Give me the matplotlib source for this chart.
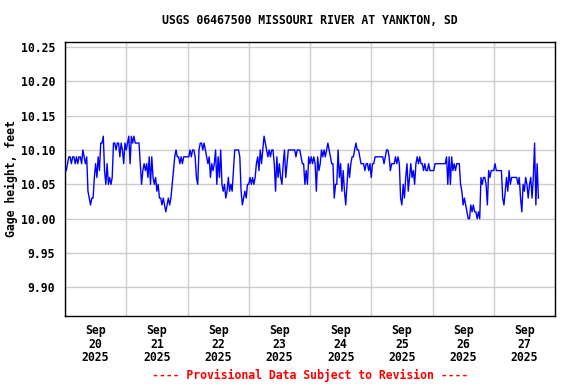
import matplotlib
matplotlib.use('Agg')
import matplotlib.pyplot as plt
import matplotlib.dates as mdates
import numpy as np
import pandas as pd

# Gage height in hundredths of a foot above 10.00 ft, one reading every 30 minutes
SEP20 = [7, 7, 8, 9, 9, 8, 9, 9, 8, 9, 8, 9, 9, 8, 10, 9, 8, 9, 4, 3, 2, 3, 3, 6,
         8, 6, 9, 7, 11, 11, 12, 7, 5, 8, 5, 6, 5, 6, 11, 11, 10, 11, 11, 9, 11, 10, 8, 11]
SEP21 = [10, 11, 12, 8, 12, 11, 12, 11, 11, 11, 11, 8, 5, 7, 8, 7, 8, 6, 9, 5, 9, 6, 5, 6,
         4, 5, 3, 3, 2, 3, 2, 1, 2, 3, 2, 3, 5, 7, 9, 10, 9, 9, 8, 9, 8, 9, 9, 9]
SEP22 = [9, 9, 10, 9, 10, 10, 9, 6, 5, 10, 11, 11, 10, 11, 10, 9, 8, 9, 6, 8, 7, 8, 10, 5,
         9, 6, 10, 5, 4, 5, 3, 4, 6, 4, 5, 4, 7, 10, 10, 10, 10, 9, 4, 2, 3, 4, 3, 5]
SEP23 = [5, 6, 5, 6, 5, 6, 8, 9, 7, 10, 8, 10, 12, 11, 10, 9, 10, 9, 10, 10, 8, 4, 9, 6,
         8, 6, 5, 8, 10, 6, 8, 10, 10, 10, 10, 10, 10, 9, 10, 10, 10, 9, 8, 8, 5, 7, 5, 9]
SEP24 = [8, 9, 8, 9, 8, 4, 9, 7, 8, 10, 9, 10, 9, 10, 11, 10, 9, 8, 8, 3, 5, 5, 10, 6,
         8, 4, 7, 4, 2, 5, 8, 6, 8, 9, 9, 10, 11, 10, 10, 9, 8, 8, 8, 7, 8, 8, 7, 8]
SEP25 = [6, 8, 8, 9, 9, 9, 9, 9, 9, 9, 8, 9, 10, 10, 9, 7, 8, 8, 8, 9, 8, 9, 8, 3,
         2, 5, 3, 6, 8, 4, 6, 8, 6, 7, 5, 8, 9, 8, 9, 8, 8, 7, 8, 7, 7, 8, 7, 7]
SEP26 = [7, 7, 8, 8, 8, 8, 8, 8, 8, 8, 8, 9, 5, 9, 5, 9, 7, 8, 7, 8, 8, 8, 5, 4,
         2, 3, 2, 1, 0, 0, 2, 1, 2, 1, 1, 0, 1, 0, 6, 5, 6, 6, 5, 2, 7, 6, 7, 7]
SEP27 = [7, 8, 7, 7, 7, 7, 7, 3, 2, 4, 6, 4, 7, 5, 6, 6, 6, 6, 6, 5, 6, 3, 1, 5,
         4, 6, 5, 3, 5, 6, 3, 6, 11, 2, 8, 3]

START = '2025-09-20 00:00'
END = '2025-09-28 00:00'
Y_TICKS = [9.90, 9.95, 10.00, 10.05, 10.10, 10.15, 10.20, 10.25]

heights = 10 + np.array(SEP20 + SEP21 + SEP22 + SEP23 + SEP24 + SEP25 + SEP26 + SEP27) / 100
times = pd.date_range(START, periods=len(heights), freq='30min')

plt.rcParams['font.family'] = 'DejaVu Sans Mono'
plt.rcParams['font.weight'] = 'bold'
plt.rcParams['font.size'] = 8.3

fig = plt.figure(figsize=(5.76, 3.84), dpi=100)
ax = fig.add_axes([65 / 576, 1 - 316 / 384, 490 / 576, 274 / 384])

ax.plot(times, heights, color='#0000ff', linewidth=1.0, zorder=3)

ax.set_xlim(pd.Timestamp(START), pd.Timestamp(END))
ax.set_ylim(9.8585, 10.257)

ax.xaxis.set_major_locator(mdates.HourLocator(byhour=12))
ax.xaxis.set_major_formatter(mdates.DateFormatter('%b\n%d\n%Y'))
ax.xaxis.set_minor_locator(mdates.DayLocator())
ax.set_yticks(Y_TICKS)
ax.set_yticklabels([f'{v:.2f}' for v in Y_TICKS])

ax.grid(which='minor', axis='x', color='#cccccc', linewidth=1, zorder=0)
ax.grid(which='major', axis='y', color='#cccccc', linewidth=1, zorder=0)
ax.tick_params(which='both', length=0)
ax.tick_params(axis='y', pad=7)
ax.tick_params(axis='x', pad=6)
for lbl in ax.get_xticklabels():
    lbl.set_linespacing(1.05)
    lbl.set_fontweight('bold')
for lbl in ax.get_yticklabels():
    lbl.set_fontweight('bold')

for spine in ax.spines.values():
    spine.set_linewidth(1.0)
    spine.set_color('black')

ax.set_ylabel('Gage height, feet', fontweight='bold')
ax.yaxis.set_label_coords(-47 / 490, 0.5)
ax.set_title('USGS 06467500 MISSOURI RIVER AT YANKTON, SD', pad=13, fontweight='bold',
             fontsize=8.3)
fig.text(310 / 576, 1 - 375 / 384, '---- Provisional Data Subject to Revision ----',
         color='red', ha='center', va='center', fontweight='bold')

fig.savefig('out.png', dpi=100)
